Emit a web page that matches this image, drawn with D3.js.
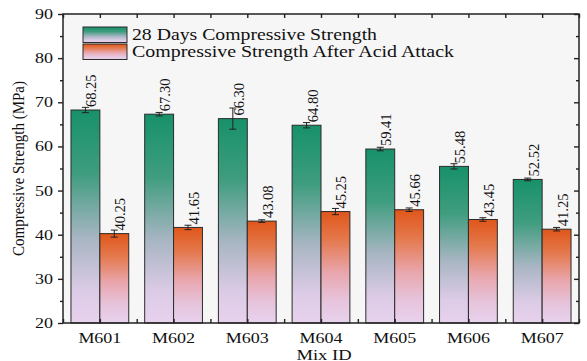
<!DOCTYPE html>
<html><head><meta charset="utf-8">
<script src="https://cdn.jsdelivr.net/npm/d3@7"></script>
<style>
body{margin:0;background:#fff;}
svg{display:block;font-family:"Liberation Serif","Times New Roman",serif;}
</style></head>
<body>
<svg id="chart" width="587" height="361"></svg>
<script>
const categories = ["M601","M602","M603","M604","M605","M606","M607"];
const seriesNames = ["28 Days Compressive Strength","Compressive Strength After Acid Attack"];
const strength28 = [68.25,67.30,66.30,64.80,59.41,55.48,52.52];
const strengthAcid = [40.25,41.65,43.08,45.25,45.66,43.45,41.25];
const err28 = [0.6,0.4,2.4,0.6,0.4,0.6,0.3];
const errAcid = [0.8,0.5,0.3,0.7,0.4,0.4,0.4];
const yMajorTicks = [20,30,40,50,60,70,80,90];
const yMinorTicks = [25,35,45,55,65,75,85];
const yTitle = "Compressive Strength (MPa)";
const xTitle = "Mix ID";

const W=587,H=361, m={l:63,r:8,t:14,b:38};
const svg=d3.select("#chart");
const defs=svg.append("defs");
function grad(id,stops){
  const g=defs.append("linearGradient").attr("id",id).attr("x1",0).attr("y1",0).attr("x2",0).attr("y2",1);
  stops.forEach(s=>g.append("stop").attr("offset",s[0]).attr("stop-color",s[1]));
}
grad("gGreen",[[0,"#17916a"],[0.3,"#3f9d7f"],[0.6,"#a7b5c2"],[0.85,"#dccbe6"],[1,"#e8d2ee"]]);
grad("gOrange",[[0,"#e0561a"],[0.25,"#e4784c"],[0.55,"#e9a6ad"],[0.8,"#e6c4dc"],[1,"#e8d2ee"]]);
const fills=["url(#gGreen)","url(#gOrange)"];

const x=d3.scaleBand().domain(categories).range([m.l,W-m.r]).padding(0);
const x1=d3.scaleBand().domain([0,1]).range([0,x.bandwidth()]).paddingInner(0).paddingOuter(0.276);
const y=d3.scaleLinear().domain([20,90]).range([H-m.b,m.t]);

svg.append("rect").attr("x",m.l).attr("y",m.t).attr("width",W-m.l-m.r).attr("height",H-m.t-m.b).attr("fill","#f6f6f6");

const data=[strength28,strengthAcid], errs=[err28,errAcid];
const groups=svg.append("g");
categories.forEach((c,i)=>{
  [0,1].forEach(s=>{
    const v=data[s][i], e=errs[s][i];
    const bx=x(c)+x1(s), bw=x1.bandwidth(), cx=bx+bw/2;
    groups.append("rect").attr("x",bx).attr("y",y(v)).attr("width",bw).attr("height",y(20)-y(v))
      .attr("fill",fills[s]).attr("stroke","#2b2b2b").attr("stroke-width",1);
    const eg=groups.append("g").attr("stroke","#222").attr("stroke-width",1);
    eg.append("line").attr("x1",cx).attr("x2",cx).attr("y1",y(v+e)).attr("y2",y(v-e));
    eg.append("line").attr("x1",cx-3.5).attr("x2",cx+3.5).attr("y1",y(v+e)).attr("y2",y(v+e));
    eg.append("line").attr("x1",cx-3.5).attr("x2",cx+3.5).attr("y1",y(v-e)).attr("y2",y(v-e));
    groups.append("text").attr("transform",`translate(${cx+11},${y(v)-3}) rotate(-90)`)
      .attr("font-size",14.5).attr("fill","#111").attr("text-anchor","start").text(v.toFixed(2));
  });
});

// axes
const bottom=m.t+(H-m.t-m.b);
const xTickVals=[];
categories.forEach(c=>{xTickVals.push(x(c)); xTickVals.push(x(c)+x.bandwidth()/2);});
xTickVals.push(x(categories[categories.length-1])+x.bandwidth());
const xs=d3.scaleLinear().domain([0,W]).range([0,W]);
function styleAxis(g){g.selectAll("path,line").attr("stroke","#222").attr("stroke-width",1.4);}
svg.append("g").attr("transform",`translate(0,${bottom})`).call(d3.axisTop(xs).tickValues(xTickVals).tickSize(4).tickFormat("")).call(styleAxis).select(".domain").remove();
svg.append("g").attr("transform",`translate(0,${m.t})`).call(d3.axisBottom(xs).tickValues(xTickVals).tickSize(4).tickFormat("")).call(styleAxis).select(".domain").remove();
svg.append("g").attr("transform",`translate(${m.l},0)`).call(d3.axisLeft(y).tickValues(yMajorTicks).tickSize(5).tickFormat("")).call(styleAxis).select(".domain").remove();
svg.append("g").attr("transform",`translate(${m.l},0)`).call(d3.axisLeft(y).tickValues(yMinorTicks).tickSize(3).tickFormat("")).call(styleAxis).select(".domain").remove();
svg.append("g").attr("transform",`translate(${W-m.r},0)`).call(d3.axisLeft(y).tickValues(yMajorTicks).tickSize(5).tickFormat("")).call(styleAxis).select(".domain").remove();
svg.append("g").attr("transform",`translate(${W-m.r},0)`).call(d3.axisLeft(y).tickValues(yMinorTicks).tickSize(3).tickFormat("")).call(styleAxis).select(".domain").remove();
svg.append("rect").attr("x",m.l).attr("y",m.t).attr("width",W-m.l-m.r).attr("height",H-m.t-m.b)
  .attr("fill","none").attr("stroke","#222").attr("stroke-width",1.5);

// tick labels
yMajorTicks.forEach(t=>{
  svg.append("text").attr("transform",`translate(${m.l-10},${y(t)+5}) scale(1.2,1)`)
    .attr("text-anchor","end").attr("font-size",15).attr("fill","#111").text(t);
});
categories.forEach(c=>{
  svg.append("text").attr("transform",`translate(${x(c)+x.bandwidth()/2},${343}) scale(1.2,1)`)
    .attr("text-anchor","middle").attr("font-size",15).attr("fill","#111").text(c);
});
svg.append("text").attr("transform",`translate(${(m.l+W-m.r)/2+3},${359.5}) scale(1.2,1)`)
  .attr("text-anchor","middle").attr("font-size",15.5).attr("fill","#111").text(xTitle);
svg.append("text").attr("transform",`translate(24,${(m.t+bottom)/2}) rotate(-90) scale(1,1.15)`)
  .attr("text-anchor","middle").attr("font-size",15).attr("fill","#111").text(yTitle);

// legend
const legW=[245,322];
seriesNames.forEach((n,i)=>{
  const ly=27+i*17;
  svg.append("rect").attr("x",83).attr("y",ly).attr("width",44).attr("height",15.5)
    .attr("fill",fills[i]).attr("stroke","#2b2b2b").attr("stroke-width",1);
  svg.append("text").attr("x",132).attr("y",ly+13).attr("font-size",16).attr("fill","#111")
    .attr("textLength",legW[i]).attr("lengthAdjust","spacingAndGlyphs").text(n);
});
</script>
</body></html>
